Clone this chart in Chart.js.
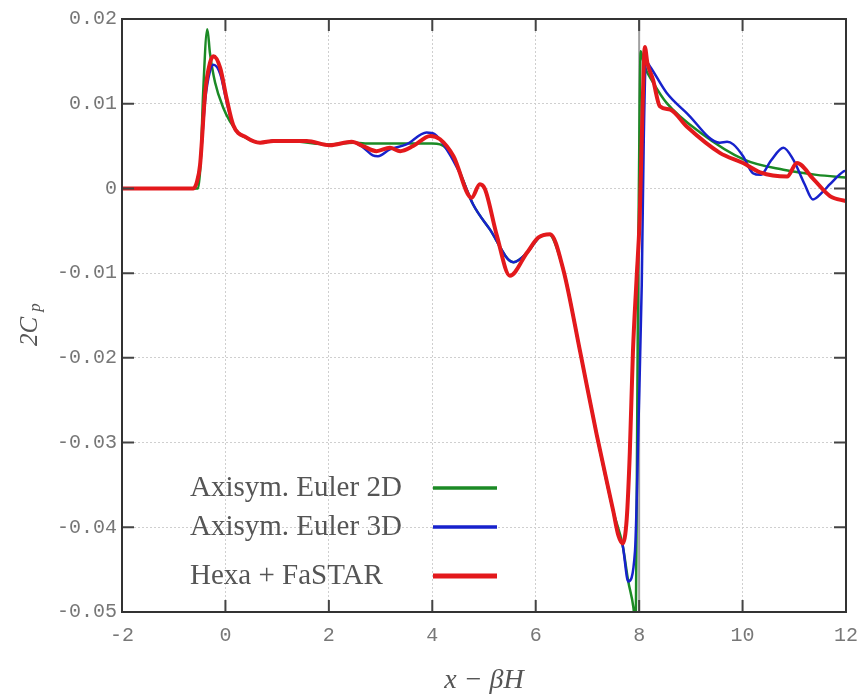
<!DOCTYPE html>
<html>
<head>
<meta charset="utf-8">
<script src="https://cdn.jsdelivr.net/npm/chart.js@4.4.0/dist/chart.umd.min.js"></script>
<style>
  html, body { margin: 0; padding: 0; background: #fff; }
  #wrap { width: 864px; height: 695px; }
</style>
</head>
<body>
<div id="wrap"><canvas id="cpChart" width="864" height="695"></canvas></div>
<script>
// series names
const seriesLabels = ["Axisym. Euler 2D", "Axisym. Euler 3D", "Hexa + FaSTAR"];

// Axisym. Euler 2D (green)
const euler2dX = [-2, -0.53, -0.48, -0.43, -0.35, -0.3, -0.2, -0.04, 0.09, 0.25, 0.45, 0.67, 1.0, 1.44, 2.0, 2.47,
  2.7, 3.5, 4.0, 4.15, 4.41, 4.79, 5.11, 5.57, 5.83, 6.08, 6.25, 6.53, 6.86, 7.18, 7.5, 7.68, 7.79, 7.89, 7.93,
  7.95, 7.98, 8.01, 8.03, 8.1, 8.28, 8.53, 9.18, 10.03, 10.79, 11.43, 12.0];
const euler2dY = [0, 0, 0.003, 0.0114, 0.0188, 0.016, 0.0125, 0.0095, 0.0079, 0.0066, 0.0058, 0.0054, 0.0057, 0.0055, 0.0052, 0.0054,
  0.0053, 0.0053, 0.0053, 0.0052, 0.0036, -0.0019, -0.0048, -0.0087, -0.0076, -0.0057, -0.0054, -0.0095, -0.0193, -0.0291, -0.0381, -0.0421, -0.0464, -0.0495, -0.052,
  -0.04, -0.01, 0.01, 0.0162, 0.0145, 0.0124, 0.0101, 0.0066, 0.0034, 0.0022, 0.0016, 0.0013];

// Axisym. Euler 3D (blue)
const euler3dX = [-2, -0.6, -0.55, -0.49, -0.39, -0.3, -0.23, -0.1, 0.02, 0.15, 0.41, 0.67, 1.0, 1.57, 2.02, 2.44,
  2.65, 2.85, 2.95, 3.18, 3.5, 3.89, 4.05, 4.28, 4.54, 4.79, 5.11, 5.57, 5.83, 6.08, 6.28, 6.53, 6.86, 7.18, 7.5, 7.6, 7.68, 7.79,
  7.92, 7.99, 8.05, 8.09, 8.13, 8.21, 8.53, 8.92, 9.56, 9.7, 9.82, 10.01, 10.2, 10.35, 10.55, 10.79, 10.98, 11.2, 11.36, 11.55, 11.69, 11.95, 12.0];
const euler3dY = [0, 0, 0.0008, 0.0028, 0.0105, 0.0138, 0.0146, 0.0135, 0.0103, 0.0074, 0.006, 0.0054, 0.0057, 0.0056, 0.0051, 0.0055,
  0.0049, 0.0039, 0.0038, 0.0046, 0.0052, 0.0066, 0.0064, 0.0046, 0.0017, -0.0019, -0.0048, -0.0087, -0.0076, -0.0057, -0.0054, -0.0095, -0.0193, -0.0291, -0.0381, -0.041, -0.0421, -0.0464,
  -0.0428, -0.0272, -0.0115, 0.006, 0.015, 0.0144, 0.0113, 0.0089, 0.0054, 0.0055, 0.0052, 0.0038, 0.0018, 0.0016, 0.0033, 0.0048, 0.0034, 0.0005, -0.0013, -0.0004, 0.0005, 0.002, 0.0021];

// Hexa + FaSTAR (red)
const fastarX = [-2, -0.62, -0.55, -0.49, -0.39, -0.3, -0.23, -0.1, 0.02, 0.15, 0.41, 0.67, 0.93, 1.57, 2.02, 2.44,
  2.66, 2.92, 3.18, 3.38, 3.63, 3.96, 4.15, 4.41, 4.76, 4.92, 5.02, 5.25, 5.5, 5.83, 6.05, 6.28, 6.53, 6.86, 7.18, 7.5,
  7.6, 7.68, 7.76, 7.82, 7.88, 7.95, 8.01, 8.06, 8.11, 8.16, 8.27, 8.4, 8.6, 8.92, 9.56, 10.01, 10.34, 10.86, 11.05, 11.37, 11.69, 12.0];
const fastarY = [0, 0, 0.0008, 0.0028, 0.0114, 0.0148, 0.0156, 0.0142, 0.0107, 0.0075, 0.006, 0.0054, 0.0056, 0.0056, 0.0051, 0.0055,
  0.005, 0.0044, 0.0048, 0.0044, 0.005, 0.0062, 0.0058, 0.0038, -0.0011, 0.0005, -0.0001, -0.0056, -0.0103, -0.0076, -0.0058, -0.0054, -0.0095, -0.0193, -0.0291, -0.0381,
  -0.041, -0.0419, -0.039, -0.0311, -0.0193, -0.0107, -0.0036, 0.008, 0.0167, 0.0148, 0.0128, 0.0097, 0.0093, 0.0073, 0.0042, 0.003, 0.0019, 0.0014, 0.003, 0.0011, -0.0009, -0.0015];

// axis ticks
const xTickValues = [-2, 0, 2, 4, 6, 8, 10, 12];
const yTickValues = [-0.05, -0.04, -0.03, -0.02, -0.01, 0, 0.01, 0.02];
const yTickLabels = ["-0.05", "-0.04", "-0.03", "-0.02", "-0.01", "0", "0.01", "0.02"];
const shockX = 8;

function toPoints(xs, ys) {
    return xs.map((x, i) => ({ x: x, y: ys[i] }));
}

// box, inward ticks, x=8 line, legend and y title
const framePlugin = {
    id: "frame",
    beforeDatasetsDraw(chart) {
        const { ctx, chartArea, scales } = chart;
        const px = scales.x.getPixelForValue(shockX);
        ctx.save();
        ctx.strokeStyle = "#a0a0a0";
        ctx.lineWidth = 2;
        ctx.beginPath();
        ctx.moveTo(px, chartArea.top);
        ctx.lineTo(px, chartArea.bottom);
        ctx.stroke();
        ctx.restore();
    },
    afterDatasetsDraw(chart) {
        const { ctx, chartArea, scales } = chart;
        const a = chartArea;
        const len = 12;
        ctx.save();
        ctx.strokeStyle = "#444";
        ctx.lineWidth = 2;
        ctx.beginPath();
        xTickValues.forEach(v => {
            const px = scales.x.getPixelForValue(v);
            ctx.moveTo(px, a.bottom); ctx.lineTo(px, a.bottom - len);
            ctx.moveTo(px, a.top); ctx.lineTo(px, a.top + len);
        });
        yTickValues.forEach(v => {
            const py = scales.y.getPixelForValue(v);
            ctx.moveTo(a.left, py); ctx.lineTo(a.left + len, py);
            ctx.moveTo(a.right, py); ctx.lineTo(a.right - len, py);
        });
        ctx.stroke();
        ctx.strokeStyle = "#333";
        ctx.strokeRect(a.left, a.top, a.right - a.left, a.bottom - a.top);
        ctx.restore();
    },
    afterDraw(chart) {
        const { ctx, chartArea } = chart;
        const a = chartArea;
        // legend: text on the left, line sample on the right
        const rows = [a.bottom - 124, a.bottom - 85, a.bottom - 36];
        ctx.save();
        ctx.font = "29px 'Liberation Serif', serif";
        ctx.textBaseline = "middle";
        ctx.textAlign = "left";
        chart.data.datasets.forEach((ds, i) => {
            ctx.fillStyle = "#555";
            ctx.fillText(ds.label, a.left + 68, rows[i]);
            ctx.strokeStyle = ds.borderColor;
            ctx.lineWidth = i === 2 ? 5 : 3.5;
            ctx.beginPath();
            ctx.moveTo(a.left + 311, rows[i]);
            ctx.lineTo(a.left + 375, rows[i]);
            ctx.stroke();
        });
        // y axis title 2C_p
        ctx.translate(30, (a.top + a.bottom) / 2 + 10);
        ctx.rotate(-Math.PI / 2);
        ctx.fillStyle = "#555";
        ctx.font = "italic 25px 'Liberation Serif', serif";
        ctx.textAlign = "center";
        ctx.textBaseline = "middle";
        ctx.fillText("2C", -6, 0);
        ctx.font = "italic 17px 'Liberation Serif', serif";
        ctx.fillText("p", 18, 6);
        ctx.restore();
    }
};

const ctx = document.getElementById("cpChart").getContext("2d");

const chart = new Chart(ctx, {
    type: "line",
    data: {
        datasets: [
            { label: seriesLabels[0], data: toPoints(euler2dX, euler2dY), borderColor: "#1b8a25", borderWidth: 2.5, order: 2 },
            { label: seriesLabels[1], data: toPoints(euler3dX, euler3dY), borderColor: "#1722cc", borderWidth: 2.5, order: 1 },
            { label: seriesLabels[2], data: toPoints(fastarX, fastarY), borderColor: "#e3191c", borderWidth: 4, order: 0 }
        ]
    },
    options: {
        responsive: false,
        animation: false,
        devicePixelRatio: 1,
        parsing: false,
        elements: {
            point: { radius: 0 },
            line: { fill: false, cubicInterpolationMode: "monotone" }
        },
        layout: { padding: { top: 19, right: 18, bottom: 0, left: 0 } },
        plugins: {
            legend: { display: false },
            tooltip: { enabled: false }
        },
        scales: {
            x: {
                type: "linear",
                min: -2,
                max: 12,
                afterBuildTicks: (scale) => { scale.ticks = xTickValues.map(v => ({ value: v })); },
                afterFit: (scale) => {
                    scale.height = 83;
                    scale.paddingLeft = 0;
                    scale.paddingRight = 0;
                },
                grid: { color: "#cfcfcf", drawTicks: false },
                border: { display: false, dash: [2, 2] },
                ticks: {
                    padding: 12,
                    color: "#777",
                    font: { family: "'Liberation Mono', monospace", size: 20 },
                    maxRotation: 0,
                    callback: (v) => String(v)
                },
                title: {
                    display: true,
                    text: "x \u2212 \u03b2H",
                    color: "#555",
                    padding: { top: 0, bottom: 0 },
                    font: { family: "'Liberation Serif', serif", style: "italic", size: 28, lineHeight: 1.0 }
                }
            },
            y: {
                type: "linear",
                min: -0.05,
                max: 0.02,
                afterBuildTicks: (scale) => { scale.ticks = yTickValues.map(v => ({ value: v })); },
                afterFit: (scale) => { scale.width = 122; },
                grid: { color: "#cfcfcf", drawTicks: false },
                border: { display: false, dash: [2, 2] },
                ticks: {
                    padding: 5,
                    color: "#777",
                    font: { family: "'Liberation Mono', monospace", size: 20 },
                    callback: (v) => yTickLabels[yTickValues.indexOf(v)]
                }
            }
        }
    },
    plugins: [framePlugin]
});
</script>
</body>
</html>
